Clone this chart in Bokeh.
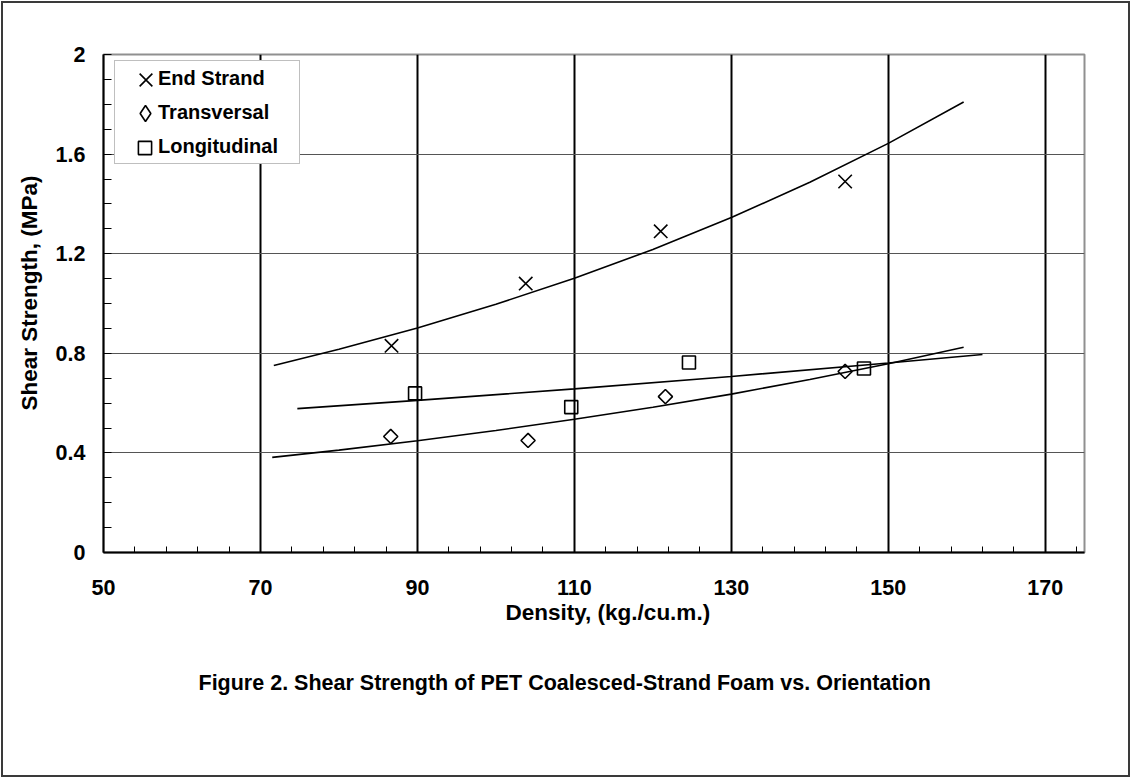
import math
from bokeh.plotting import figure
from bokeh.models import (FixedTicker, Range1d, Title, Legend, LegendItem)
from bokeh.embed import file_html
from bokeh.resources import INLINE

# ---- data ----
end_density = [86.7, 103.8, 121.0, 144.5]
end_shear = [0.83, 1.08, 1.29, 1.49]

trans_density = [86.6, 104.1, 121.6, 144.5]
trans_shear = [0.466, 0.45, 0.626, 0.727]

long_density = [89.7, 109.6, 124.6, 146.9]
long_shear = [0.639, 0.584, 0.763, 0.739]

# trend curves
end_fit_x = [71.7, 80, 90, 100, 110, 120, 130, 140, 150, 159.6]
end_fit_y = [0.751, 0.816, 0.902, 0.997, 1.101, 1.217, 1.345, 1.487, 1.643, 1.809]

trans_fit_x = [71.5, 80, 90, 100, 110, 120, 130, 140, 150, 159.6]
trans_fit_y = [0.382, 0.411, 0.449, 0.490, 0.535, 0.583, 0.636, 0.695, 0.758, 0.824]

long_fit_x = [74.7, 90, 110, 130, 150, 162]
long_fit_y = [0.578, 0.611, 0.657, 0.707, 0.761, 0.795]

series_names = ["End Strand", "Transversal", "Longitudinal"]

x_ticks = [50, 70, 90, 110, 130, 150, 170]
x_minor = [54, 58, 62, 66, 74, 78, 82, 86, 94, 98, 102, 106, 114, 118, 122, 126,
           134, 138, 142, 146, 154, 158, 162, 166, 174]
y_ticks = [0, 0.4, 0.8, 1.2, 1.6, 2.0]
y_tick_labels = ["0", "0.4", "0.8", "1.2", "1.6", "2"]
y_minor = [0.1, 0.2, 0.3, 0.5, 0.6, 0.7, 0.9, 1.0, 1.1, 1.3, 1.4, 1.5, 1.7, 1.8, 1.9]

FONT = "Liberation Sans"

p = figure(width=1129, height=776, output_backend="svg", toolbar_location=None,
           x_range=Range1d(50, 175), y_range=Range1d(0, 2),
           min_border_left=100, min_border_right=48, min_border_top=51,
           min_border_bottom=227)
p.styles = {"border": "2px solid #3a3a3a", "margin": "1px"}

p.background_fill_color = "white"
p.border_fill_color = "white"
p.outline_line_color = "#909090"
p.outline_line_width = 2

# axes
p.xaxis.ticker = FixedTicker(ticks=x_ticks, minor_ticks=x_minor)
p.yaxis.ticker = FixedTicker(ticks=y_ticks, minor_ticks=y_minor)
p.yaxis.major_label_overrides = {t: l for t, l in zip(y_ticks, y_tick_labels)}
for ax in (p.xaxis, p.yaxis):
    ax.axis_line_color = "black"
    ax.axis_line_width = 2
    ax.major_tick_out = 0
    ax.minor_tick_out = 0
    ax.major_label_text_font = FONT
    ax.major_label_text_font_style = "bold"
    ax.major_label_text_font_size = "21.5px"
    ax.major_label_text_color = "black"
    ax.major_tick_line_color = "black"
    ax.minor_tick_line_color = "black"
p.xaxis.major_tick_in = 0
p.xaxis.minor_tick_in = 6
p.yaxis.major_tick_in = 8
p.yaxis.minor_tick_in = 8
p.xaxis.major_label_standoff = 27
p.yaxis.major_label_standoff = 18

# grid
p.xgrid.ticker = FixedTicker(ticks=x_ticks[1:])
p.xgrid.grid_line_color = "black"
p.xgrid.grid_line_width = 2
p.ygrid.ticker = FixedTicker(ticks=y_ticks[1:-1])
p.ygrid.grid_line_color = "#555555"
p.ygrid.grid_line_width = 1

# trend lines
p.line(end_fit_x, end_fit_y, line_color="black", line_width=1.6)
p.line(trans_fit_x, trans_fit_y, line_color="black", line_width=1.6)
p.line(long_fit_x, long_fit_y, line_color="black", line_width=1.6)

# markers
r_end = p.scatter(end_density, end_shear, marker="x", size=19,
                  line_color="black", line_width=1.6)
r_trans = p.scatter(trans_density, trans_shear, marker="square", angle=math.pi / 4,
                    size=10, line_color="black", line_width=1.6, fill_alpha=0)
r_long = p.scatter(long_density, long_shear, marker="square", size=13,
                   line_color="black", line_width=1.6, fill_alpha=0)

# hidden helper renderers used only for legend symbols
r_blank = p.scatter(end_density, end_shear, marker="circle", size=1,
                    line_alpha=0, fill_alpha=0, visible=False)
r_trans_leg = p.scatter(trans_density, trans_shear, marker="diamond", size=10,
                        line_color="black", line_width=1.6, fill_alpha=0, visible=False)

# legend box with labels
legA = Legend(items=[LegendItem(label=n, renderers=[r_blank]) for n in series_names],
              location=(11, 388))
legA.label_text_font = FONT
legA.label_text_font_style = "bold"
legA.label_text_font_size = "20px"
legA.label_text_color = "black"
legA.glyph_width = 32
legA.glyph_height = 24
legA.label_height = 24
legA.label_width = 136
legA.label_standoff = 6
legA.spacing = 10
legA.padding = 5
legA.margin = 0
legA.border_line_color = "#808080"
legA.border_line_width = 1
legA.background_fill_color = "white"
legA.background_fill_alpha = 1
p.add_layout(legA)


def symbol_legend(renderer, glyph, loc):
    lg = Legend(items=[LegendItem(label=" ", renderers=[renderer])], location=loc)
    lg.glyph_width = glyph
    lg.glyph_height = glyph
    lg.label_height = 1
    lg.label_width = 1
    lg.label_standoff = 0
    lg.label_text_font_size = "1px"
    lg.padding = 0
    lg.margin = 0
    lg.spacing = 0
    lg.border_line_color = None
    lg.background_fill_alpha = 0
    p.add_layout(lg)


symbol_legend(r_end, 45, (20, 450))
symbol_legend(r_trans_leg, 40, (22, 419))
symbol_legend(r_long, 33, (25, 388))

# axis labels and title
TC = "black"
p.add_layout(Title(text="Density, (kg./cu.m.)", align="left", offset=402,
                   text_font=FONT, text_font_style="bold", text_font_size="22.5px",
                   text_color=TC, standoff=1), "below")
p.add_layout(Title(text="Figure 2. Shear Strength of PET Coalesced-Strand Foam vs. Orientation",
                   align="left", offset=95, text_font=FONT, text_font_style="bold",
                   text_font_size="21.5px", text_color=TC, standoff=86), "below")
p.add_layout(Title(text="Shear Strength, (MPa)", align="left", offset=142,
                   text_font=FONT, text_font_style="bold", text_font_size="22.5px",
                   text_color=TC, standoff=22), "left")

open("out.html", "w").write(file_html(p, INLINE))
